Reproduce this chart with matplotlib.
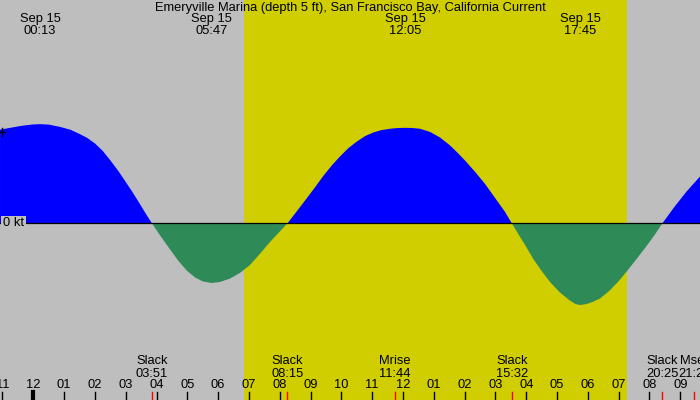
import matplotlib
matplotlib.use("Agg")
import matplotlib.pyplot as plt
import numpy as np

plt.rcParams['font.family'] = ['Liberation Sans', 'DejaVu Sans']

# ---- data ----
title = "Emeryville Marina (depth 5 ft), San Francisco Bay, California Current"
# current speed (kt) at decimal hours since midnight Sep 15
hours = [-1.08, -0.75, -0.5, -0.25, 0.0, 0.22, 0.5, 0.87, 1.2, 1.52, 1.75, 2.0,
         2.25, 2.49, 2.75, 2.98, 3.2, 3.46, 3.65, 3.85,
         4.1, 4.44, 4.7, 4.98, 5.25, 5.5, 5.78, 6.05, 6.38, 6.71, 7.03, 7.35,
         7.68, 8.0, 8.25,
         8.55, 8.87, 9.15, 9.41, 9.7, 9.96, 10.23, 10.5, 10.77, 11.04, 11.3,
         11.58, 11.83, 12.08, 12.3, 12.55, 12.88, 13.2, 13.52, 13.75, 14.01,
         14.34, 14.66, 14.99, 15.31, 15.53,
         15.8, 15.96, 16.23, 16.5, 16.76, 17.08, 17.41, 17.6, 17.75, 17.95,
         18.15, 18.39, 18.7, 19.0, 19.26, 19.6, 19.91, 20.17, 20.42,
         20.8, 21.2, 21.64]
speed = [1.02, 1.04, 1.055, 1.068, 1.077, 1.08, 1.075, 1.05, 1.02, 0.97, 0.93, 0.87,
         0.79, 0.69, 0.575, 0.46, 0.35, 0.21, 0.105, 0.0,
         -0.125, -0.285, -0.405, -0.515, -0.59, -0.633, -0.65, -0.64, -0.603, -0.54,
         -0.455, -0.335, -0.205, -0.09, 0.0,
         0.13, 0.27, 0.395, 0.515, 0.635, 0.73, 0.82, 0.89, 0.95, 0.99, 1.015,
         1.03, 1.038, 1.04, 1.038, 1.03, 0.995, 0.935, 0.85, 0.775, 0.685,
         0.56, 0.43, 0.275, 0.125, 0.0,
         -0.15, -0.235, -0.39, -0.52, -0.635, -0.75, -0.84, -0.88, -0.89, -0.88,
         -0.857, -0.82, -0.735, -0.63, -0.525, -0.38, -0.245, -0.125, 0.0,
         0.175, 0.345, 0.51]
# max current events shown at top
top_dates = ["Sep 15", "Sep 15", "Sep 15", "Sep 15"]
top_times = ["00:13", "05:47", "12:05", "17:45"]
# slack / moon events shown at bottom
bot_names = ["Slack", "Slack", "Mrise", "Slack", "Slack", "Mset"]
bot_times = ["03:51", "08:15", "11:44", "15:32", "20:25", "21:27"]
# daylight (sunrise, sunset)
sunrise, sunset = "06:50", "19:16"
# hour tick labels
hour_ticks = list(range(-1, 22))
hour_labels = ["11", "12", "01", "02", "03", "04", "05", "06", "07", "08", "09", "10",
               "11", "12", "01", "02", "03", "04", "05", "06", "07", "08", "09"]
ytick_vals = [0, 1]
ytick_labels = ["0 kt", "1 kt"]


def hrs(s):
    h, m = s.split(":")
    return int(h) + int(m) / 60.0


BG = "#BEBEBE"
DAY = "#D0CE00"
FLOOD = "#0000FF"
EBB = "#2E8B57"

fig = plt.figure(figsize=(7, 4), dpi=100)
fig.patch.set_facecolor(BG)
ax = fig.add_axes([0, 0, 1, 1])
ax.set_facecolor(BG)
ax.set_axis_off()

px_per_hour = 30.81
x_mid = 33.3
xmin = (0 - x_mid) / px_per_hour
xmax = (700 - x_mid) / px_per_hour
zero_px = 223.3
px_per_kt = 91.8
ymax = zero_px / px_per_kt
ymin = (zero_px - 400) / px_per_kt
ax.set_xlim(xmin, xmax)
ax.set_ylim(ymin, ymax)

# daylight
ax.axvspan(hrs(sunrise), hrs(sunset), color=DAY, lw=0, zorder=0)

t = np.array(hours)
v = np.array(speed)
ax.fill_between(t, v, 0, where=v >= 0, interpolate=True, color=FLOOD, lw=0, zorder=2)
ax.fill_between(t, v, 0, where=v <= 0, interpolate=True, color=EBB, lw=0, zorder=2)
ax.axhline(0, color="black", lw=0.9, zorder=3)

trans = ax.get_xaxis_transform()
FS = 9.3

# y tick marks
for val, lab in zip(ytick_vals, ytick_labels):
    if val == 0:
        ax.text(xmin + 3 / px_per_hour, val, lab, ha="left", va="center", fontsize=FS,
                zorder=5, bbox=dict(facecolor=BG, edgecolor="none", pad=1.2))
    else:
        ax.plot([xmin, xmin + 5 / px_per_hour], [val, val], color="black", lw=1, zorder=4)
        ax.plot([xmin + 1.7 / px_per_hour] * 2, [val - 4 / px_per_kt, val + 4 / px_per_kt],
                color="black", lw=1, zorder=4)

# title
ax.text((xmin + xmax) / 2, 1 - 7.7 / 400, title, transform=trans, ha="center",
        va="center", fontsize=FS, zorder=6)

# top event labels
for d, tm in zip(top_dates, top_times):
    x = hrs(tm)
    ax.text(x, 1 - 19 / 400, d, transform=trans, ha="center", va="center", fontsize=FS, zorder=6)
    ax.text(x, 1 - 31.3 / 400, tm, transform=trans, ha="center", va="center", fontsize=FS, zorder=6)

# bottom event labels + red ticks
tick_lo, tick_hi = 0, 8 / 400
for n, tm in zip(bot_names, bot_times):
    x = hrs(tm)
    ax.text(x, 1 - 361.5 / 400, n, transform=trans, ha="center", va="center", fontsize=FS, zorder=6)
    ax.text(x, 1 - 373.8 / 400, tm, transform=trans, ha="center", va="center", fontsize=FS, zorder=6)
    ax.plot([x, x], [tick_lo, tick_hi], transform=trans, color="red", lw=1, zorder=6)

# hour ticks
for h, lab in zip(hour_ticks, hour_labels):
    ax.plot([h, h], [tick_lo, tick_hi], transform=trans, color="black",
            lw=3 if h == 0 else 1, zorder=6)
    ax.text(h, 1 - 385 / 400, lab, transform=trans, ha="center", va="center", fontsize=FS, zorder=6)

fig.savefig("out.png", dpi=100, facecolor=BG)
